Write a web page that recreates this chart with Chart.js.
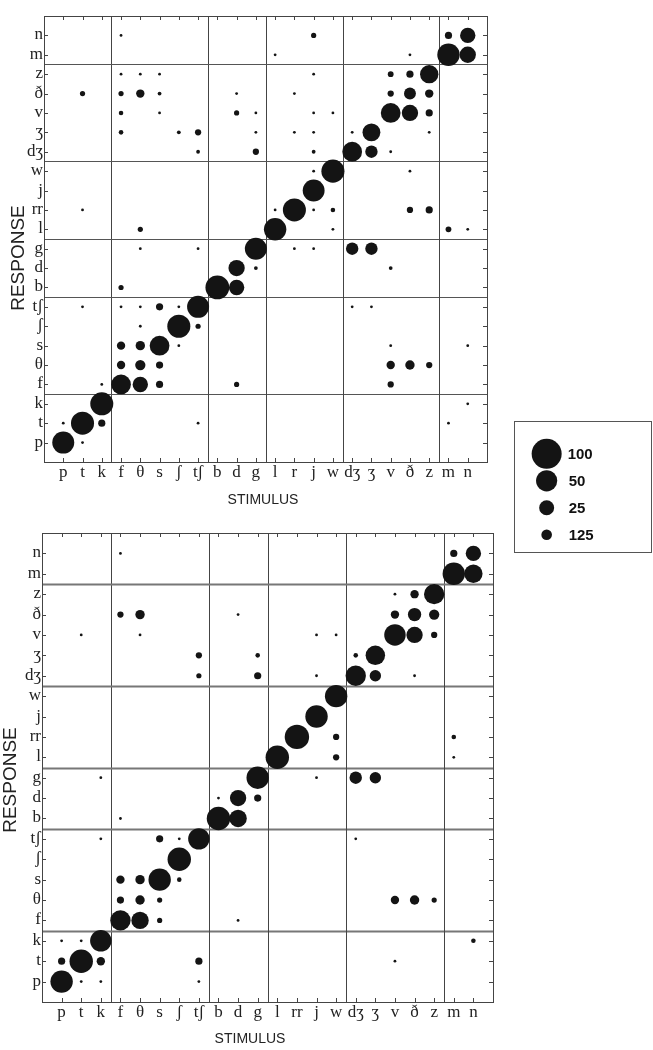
<!DOCTYPE html>
<html>
<head>
<meta charset="utf-8">
<script src="https://cdn.jsdelivr.net/npm/chart.js@4.4.1/dist/chart.umd.min.js"></script>
<style>
body{margin:0;background:#fff;width:653px;height:1050px;position:relative;overflow:hidden}
canvas{position:absolute}
</style>
</head>
<body>
<canvas id="topChart" width="500" height="520" style="left:0;top:0"></canvas>
<canvas id="bottomChart" width="500" height="530" style="left:0;top:520px"></canvas>
<canvas id="legendChart" width="138" height="132" style="left:514px;top:421px"></canvas>
<script>
/* phoneme confusion matrices: stimulus (x) vs response (y) */
const phonemes=['p','t','k','f','θ','s','ʃ','tʃ','b','d','g','l','rr','j','w','dʒ','ʒ','v','ð','z','m','n'];
const topStimLabels=['p','t','k','f','θ','s','ʃ','tʃ','b','d','g','l','r','j','w','dʒ','ʒ','v','ð','z','m','n'];
const bottomStimLabels=['p','t','k','f','θ','s','ʃ','tʃ','b','d','g','l','rr','j','w','dʒ','ʒ','v','ð','z','m','n'];
const responseLabels=phonemes;
const groupSizes=[3,5,3,4,5,2];

// [stimulus, response, percent]
const topCells=[
  ['p','p',81],['p','t',1],
  ['t','p',1],['t','t',89],['t','tʃ',1],['t','rr',1],['t','ð',4],
  ['k','t',8],['k','k',89],['k','f',1],
  ['f','f',65],['f','θ',11],['f','s',11],['f','tʃ',1],['f','b',4],['f','v',3],['f','ð',4],['f','z',1],['f','ʒ',3],['f','n',1],
  ['θ','f',39],['θ','θ',17],['θ','s',14],['θ','ʃ',1],['θ','tʃ',1],['θ','g',1],['θ','l',4],['θ','ð',11],['θ','z',1],
  ['s','f',8],['s','θ',8],['s','s',65],['s','tʃ',8],['s','z',1],['s','ð',2],['s','v',1],
  ['ʃ','s',1],['ʃ','ʃ',89],['ʃ','tʃ',1],['ʃ','ʒ',2],
  ['tʃ','t',1],['tʃ','ʃ',4],['tʃ','tʃ',81],['tʃ','g',1],['tʃ','ʒ',6],['tʃ','dʒ',2],
  ['b','b',95],
  ['d','f',4],['d','b',39],['d','d',44],['d','v',4],['d','ð',1],
  ['g','d',2],['g','g',81],['g','v',1],['g','ʒ',1],['g','dʒ',6],
  ['l','l',84],['l','rr',1],['l','m',1],
  ['rr','rr',89],['rr','g',1],['rr','ð',1],['rr','ʒ',1],
  ['j','j',80],['j','rr',1],['j','w',1],['j','g',1],['j','dʒ',2],['j','ʒ',1],['j','v',1],['j','z',1],['j','n',4],
  ['w','w',89],['w','rr',3],['w','l',1],['w','v',1],
  ['dʒ','dʒ',65],['dʒ','ʒ',1],['dʒ','g',25],['dʒ','tʃ',1],
  ['ʒ','ʒ',53],['ʒ','dʒ',25],['ʒ','g',25],['ʒ','tʃ',1],
  ['v','v',65],['v','ð',6],['v','z',5],['v','dʒ',1],['v','d',2],['v','s',1],['v','θ',11],['v','f',6],
  ['ð','ð',23],['ð','v',44],['ð','z',8],['ð','w',1],['ð','rr',6],['ð','θ',14],['ð','m',1],
  ['z','z',56],['z','ð',11],['z','v',8],['z','ʒ',1],['z','rr',8],['z','θ',6],
  ['m','m',84],['m','n',8],['m','l',5],['m','t',1],
  ['n','n',39],['n','m',44],['n','l',1],['n','s',1],['n','k',1]
];
const bottomCells=[
  ['p','p',84],['p','t',8],['p','k',1],
  ['t','t',92],['t','p',1],['t','k',1],['t','v',1],
  ['k','k',77],['k','t',11],['k','p',1],['k','tʃ',1],['k','g',1],
  ['f','f',69],['f','θ',8],['f','s',11],['f','b',1],['f','ð',6],['f','n',1],
  ['θ','f',50],['θ','θ',14],['θ','s',14],['θ','ð',14],['θ','v',1],
  ['s','s',84],['s','θ',4],['s','f',4],['s','tʃ',8],
  ['ʃ','ʃ',92],['ʃ','s',3],['ʃ','tʃ',1],
  ['tʃ','tʃ',77],['tʃ','t',8],['tʃ','p',1],['tʃ','ʒ',6],['tʃ','dʒ',4],
  ['b','b',92],['b','d',1],
  ['d','d',44],['d','b',50],['d','f',1],['d','ð',1],
  ['g','g',84],['g','d',8],['g','ʒ',3],['g','dʒ',8],
  ['l','l',92],
  ['rr','rr',100],
  ['j','j',84],['j','g',1],['j','dʒ',1],['j','v',1],
  ['w','w',84],['w','rr',6],['w','l',6],['w','v',1],
  ['dʒ','dʒ',69],['dʒ','g',25],['dʒ','ʒ',3],['dʒ','tʃ',1],
  ['ʒ','ʒ',63],['ʒ','dʒ',21],['ʒ','g',21],
  ['v','v',77],['v','ð',11],['v','z',1],['v','θ',11],['v','t',1],
  ['ð','ð',29],['ð','v',44],['ð','z',11],['ð','dʒ',1],['ð','θ',14],
  ['z','z',69],['z','ð',17],['z','v',6],['z','θ',4],
  ['m','m',84],['m','n',8],['m','rr',3],['m','l',1],
  ['n','n',39],['n','m',56],['n','k',3]
];
const legendValues=[100,50,25,12.5];
const legendLabels=['100','50','25','125'];

const SERIF='"Liberation Serif","DejaVu Serif",serif';
const SANS='"Liberation Sans",Arial,sans-serif';

function line(ctx,x1,y1,x2,y2){ctx.beginPath();ctx.moveTo(x1,y1);ctx.lineTo(x2,y2);ctx.stroke();}
function bubbleR(v){return 1.2*Math.sqrt(v)+0.2;}

const matrixFrame={
  id:'matrixFrame',
  beforeDatasetsDraw(chart,args,o){
    const {ctx,chartArea:a,scales:{x,y}}=chart;
    ctx.save();
    let acc=-0.5;
    groupSizes.slice(0,-1).forEach(n=>{
      acc+=n;
      const px=Math.round(x.getPixelForValue(acc))+.5, py=Math.round(y.getPixelForValue(acc))+.5;
      ctx.strokeStyle=o.vColor;ctx.lineWidth=o.vWidth;line(ctx,px,a.top,px,a.bottom);
      ctx.strokeStyle=o.hColor;ctx.lineWidth=o.hWidth;line(ctx,a.left,py,a.right,py);
    });
    ctx.restore();
  },
  afterDatasetsDraw(chart,args,o){
    const {ctx,chartArea:a,scales:{x,y}}=chart;
    ctx.save();
    ctx.strokeStyle='#444';ctx.lineWidth=1;
    ctx.strokeRect(Math.round(a.left)+.5,Math.round(a.top)+.5,Math.round(a.right-a.left),Math.round(a.bottom-a.top));
    phonemes.forEach((p,i)=>{
      const px=Math.round(x.getPixelForValue(i))+.5, py=Math.round(y.getPixelForValue(i))+.5;
      line(ctx,px,a.top,px,a.top+4);line(ctx,px,a.bottom,px,a.bottom-4);
      line(ctx,a.left,py,a.left+4,py);line(ctx,a.right,py,a.right-4,py);
    });
    ctx.fillStyle='#222';
    ctx.font='17px '+SERIF;
    ctx.textAlign='right';ctx.textBaseline='alphabetic';
    responseLabels.forEach((t,i)=>ctx.fillText(t,a.left-1,y.getPixelForValue(i)+4));
    ctx.textAlign='center';ctx.textBaseline='top';
    o.stimLabels.forEach((t,i)=>ctx.fillText(t,x.getPixelForValue(i),a.bottom+2));
    ctx.font='14px '+SANS;ctx.textBaseline='middle';
    ctx.fillText('STIMULUS',o.xTitle[0],o.xTitle[1]);
    ctx.translate(o.yTitle[0],o.yTitle[1]);ctx.rotate(-Math.PI/2);
    ctx.font='19px '+SANS;
    ctx.fillText('RESPONSE',0,0);
    ctx.restore();
  }
};

function toPoints(cells){
  return cells.map(([s,r,v])=>({x:phonemes.indexOf(s),y:phonemes.indexOf(r),r:bubbleR(v)}));
}

function makeMatrix(id,cells,pad,frameOpts){
  return new Chart(document.getElementById(id),{
    type:'bubble',
    data:{datasets:[{data:toPoints(cells),backgroundColor:'#141414',borderWidth:0,hoverRadius:0}]},
    options:{
      responsive:false,animation:false,events:[],
      layout:{padding:pad,autoPadding:false},
      plugins:{legend:{display:false},tooltip:{enabled:false},matrixFrame:frameOpts},
      scales:{
        x:{type:'linear',min:-1,max:22,display:false},
        y:{type:'linear',min:-1,max:22,display:false}
      }
    },
    plugins:[matrixFrame]
  });
}

makeMatrix('topChart',topCells,{left:44,top:16,right:13,bottom:58},
  {stimLabels:topStimLabels,vColor:'#444',vWidth:1,hColor:'#555',hWidth:1.2,xTitle:[263,500],yTitle:[19,258]});
makeMatrix('bottomChart',bottomCells,{left:42,top:13,right:7,bottom:48},
  {stimLabels:bottomStimLabels,vColor:'#444',vWidth:1,hColor:'#777',hWidth:2,xTitle:[250,519],yTitle:[11,260]});

/* size legend */
const legendFrame={
  id:'legendFrame',
  afterDatasetsDraw(chart){
    const {ctx,scales:{x,y}}=chart;
    ctx.save();
    ctx.strokeStyle='#555';ctx.lineWidth=1;
    ctx.strokeRect(.5,.5,chart.width-1,chart.height-1);
    ctx.fillStyle='#111';ctx.font='bold 15px '+SANS;
    ctx.textAlign='left';ctx.textBaseline='middle';
    legendLabels.forEach((t,i)=>ctx.fillText(t,x.getPixelForValue(0)+(i?22:21),y.getPixelForValue(i)+1));
    ctx.restore();
  }
};
new Chart(document.getElementById('legendChart'),{
  type:'bubble',
  data:{datasets:[{data:legendValues.map((v,i)=>({x:0,y:i,r:1.5*Math.sqrt(v)})),backgroundColor:'#141414',borderWidth:0,hoverRadius:0}]},
  options:{
    responsive:false,animation:false,events:[],
    layout:{padding:0,autoPadding:false},
    plugins:{legend:{display:false},tooltip:{enabled:false}},
    scales:{
      x:{type:'linear',min:-0.31,max:1,display:false},
      y:{type:'linear',min:-1.215,max:3.674,reverse:true,display:false}
    }
  },
  plugins:[legendFrame]
});
</script>
</body>
</html>
